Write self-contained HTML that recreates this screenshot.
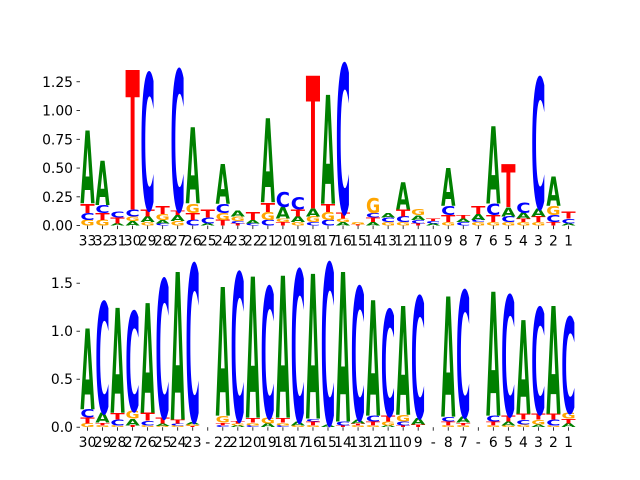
<!DOCTYPE html>
<html><head><meta charset="utf-8"><style>
html,body{margin:0;padding:0;background:#fff;}
svg{display:block;font-family:"DejaVu Sans","Liberation Sans",sans-serif;}
</style></head><body>
<svg id="chart" width="640" height="480" viewBox="0 0 640 480">
<g id="top"></g>
<g id="bot"></g>
</svg>
<script>
const topLabels = ["33","32","31","30","29","28","27","26","25","24","23","22","21","20","19","18","17","16","15","14","13","12","11","10","9","8","7","6","5","4","3","2","1"];
const topStacks = [
 [["G",.05],["C",.06],["T",.08],["A",.64]],
 [["G",.05],["T",.06],["C",.07],["A",.39]],
 [["A",.02],["T",.05],["C",.05]],
 [["A",.04],["G",.04],["C",.06],["T",1.23]],
 [["G",.03],["A",.05],["T",.06],["C",1.2]],
 [["C",.02],["A",.03],["G",.05],["T",.07]],
 [["G",.04],["A",.05],["T",.04],["C",1.24]],
 [["C",.05],["T",.06],["G",.08],["A",.67]],
 [["A",.02],["C",.05],["T",.07]],
 [["T",.05],["G",.06],["C",.08],["A",.35]],
 [["T",.02],["C",.02],["G",.04],["A",.05]],
 [["C",.02],["A",.03],["T",.07]],
 [["C",.05],["G",.07],["T",.08],["A",.74]],
 [["T",.03],["G",.03],["A",.1],["C",.13]],
 [["G",.03],["A",.05],["T",.06],["C",.11]],
 [["C",.03],["G",.05],["A",.07],["T",1.17]],
 [["C",.05],["G",.07],["T",.07],["A",.96]],
 [["A",.03],["G",.03],["T",.05],["C",1.31]],
 [["T",.01],["G",.02]],
 [["A",.03],["T",.04],["C",.04],["G",.13]],
 [["G",.03],["C",.04],["A",.04]],
 [["G",.03],["C",.05],["T",.06],["A",.24]],
 [["T",.02],["C",.03],["A",.04],["G",.05]],
 [["A",.02],["C",.02],["T",.02]],
 [["G",.03],["T",.06],["C",.08],["A",.33]],
 [["C",.03],["A",.03],["T",.03]],
 [["G",.03],["C",.02],["A",.05],["T",.07]],
 [["G",.03],["T",.06],["C",.1],["A",.68]],
 [["G",.03],["C",.05],["A",.08],["T",.38]],
 [["G",.03],["T",.03],["A",.05],["C",.09]],
 [["G",.03],["T",.05],["A",.07],["C",1.15]],
 [["T",.03],["C",.06],["G",.08],["A",.26]],
 [["A",.02],["C",.04],["T",.06]]
];
const topTicks = [0,0.25,0.5,0.75,1.0,1.25];
const topTickLabels = ["0.00","0.25","0.50","0.75","1.00","1.25"];

const botLabels = ["30","29","28","27","26","25","24","23","-","22","21","20","19","18","17","16","15","14","13","12","11","10","9","-","8","7","-","6","5","4","3","2","1"];
const botStacks = [
 [["G",.04],["T",.06],["C",.09],["A",.85]],
 [["G",.02],["T",.03],["A",.1],["C",1.17]],
 [["G",.02],["C",.06],["T",.07],["A",1.11]],
 [["T",.02],["A",.07],["G",.08],["C",1.05]],
 [["G",.02],["C",.05],["T",.08],["A",1.16]],
 [["G",.01],["A",.03],["T",.06],["C",1.46]],
 [["G",.02],["C",.02],["T",.04],["A",1.56]],
 [["T",.01],["G",.02],["A",.03],["C",1.66]],
 [],
 [["C",.02],["T",.03],["G",.07],["A",1.36]],
 [["A",.02],["G",.02],["T",.03],["C",1.56]],
 [["C",.02],["G",.03],["T",.05],["A",1.49]],
 [["A",.04],["G",.06],["C",1.38]],
 [["C",.02],["G",.03],["T",.05],["A",1.5]],
 [["G",.02],["A",.04],["C",1.6]],
 [["G",.02],["T",.04],["C",.03],["A",1.53]],
 [["A",.03],["C",1.7]],
 [["T",.02],["C",.04],["A",1.58]],
 [["G",.02],["T",.02],["A",.04],["C",1.4]],
 [["G",.02],["T",.04],["C",.06],["A",1.22]],
 [["A",.02],["G",.04],["T",.06],["C",1.12]],
 [["T",.02],["C",.04],["G",.07],["A",1.15]],
 [["T",.03],["A",.07],["C",1.28]],
 [],
 [["G",.02],["T",.04],["C",.05],["A",1.27]],
 [["G",.02],["T",.03],["A",.06],["C",1.33]],
 [],
 [["G",.02],["T",.04],["C",.06],["A",1.31]],
 [["G",.02],["A",.04],["T",.06],["C",1.27]],
 [["G",.03],["C",.05],["T",.06],["A",.99]],
 [["A",.03],["G",.05],["T",.06],["C",1.12]],
 [["G",.02],["C",.06],["T",.06],["A",1.14]],
 [["A",.04],["T",.05],["G",.06],["C",1.01]]
];
const botTicks = [0,0.5,1.0,1.5];
const botTickLabels = ["0.0","0.5","1.0","1.5"];

const colors = {A:"#008000",C:"#0000ff",G:"#ffa500",T:"#ff0000"};
const NS = "http://www.w3.org/2000/svg";
function mk(tag, attrs, parent){const e=document.createElementNS(NS,tag);for(const k in attrs)e.setAttribute(k,attrs[k]);parent.appendChild(e);return e;}

function panel(g, labels, stacks, ticks, tickLabels, yTop, yBot, yMax, name){
  const x0=80, x1=576, n=labels.length, step=(x1-x0)/n;
  const xs = i => x0 + step*(i+0.5);
  const ys = v => yBot - v/yMax*(yBot-yTop);
  const cw = step*0.95;
  stacks.forEach((st,i)=>{
    let base=0;
    st.forEach(([L,h])=>{
      const yb=ys(base), yt=ys(base+h), hp=yb-yt;
      base+=h;
      if(hp<0.3) return;
      const fs = hp/0.74;
      const t = mk("text",{x:(xs(i)-cw/2).toFixed(2),y:yb.toFixed(2),"font-size":fs.toFixed(2),"font-weight":"bold",fill:colors[L],textLength:cw.toFixed(2),lengthAdjust:"spacingAndGlyphs"},g);
      
      
      t.textContent=L;
    });
  });
  ticks.forEach((v,k)=>{
    const y=ys(v);
    const l=mk("line",{x1:x0-3.5,x2:x0,y1:y,y2:y,stroke:"#000","stroke-width":0.8},g);
    
    
    const t=mk("text",{x:x0-7,y:y+5,"font-size":13.9,"text-anchor":"end",fill:"#000"},g);
    
    
    t.textContent=tickLabels[k];
  });
  labels.forEach((s,i)=>{
    const x=xs(i);
    const l=mk("line",{x1:x,x2:x,y1:yBot,y2:yBot+3.5,stroke:"#000","stroke-width":0.8},g);
    
    
    const t=mk("text",{x:x,y:yBot+20,"font-size":13.9,"text-anchor":"middle",fill:"#000"},g);
    
    
    t.textContent=s;
  });
}
panel(document.getElementById('top'), topLabels, topStacks, topTicks, topTickLabels, 57.6, 225.6, 1.46, 'top');
panel(document.getElementById('bot'), botLabels, botStacks, botTicks, botTickLabels, 259.2, 427.2, 1.75, 'bottom');
</script>
</body></html>
